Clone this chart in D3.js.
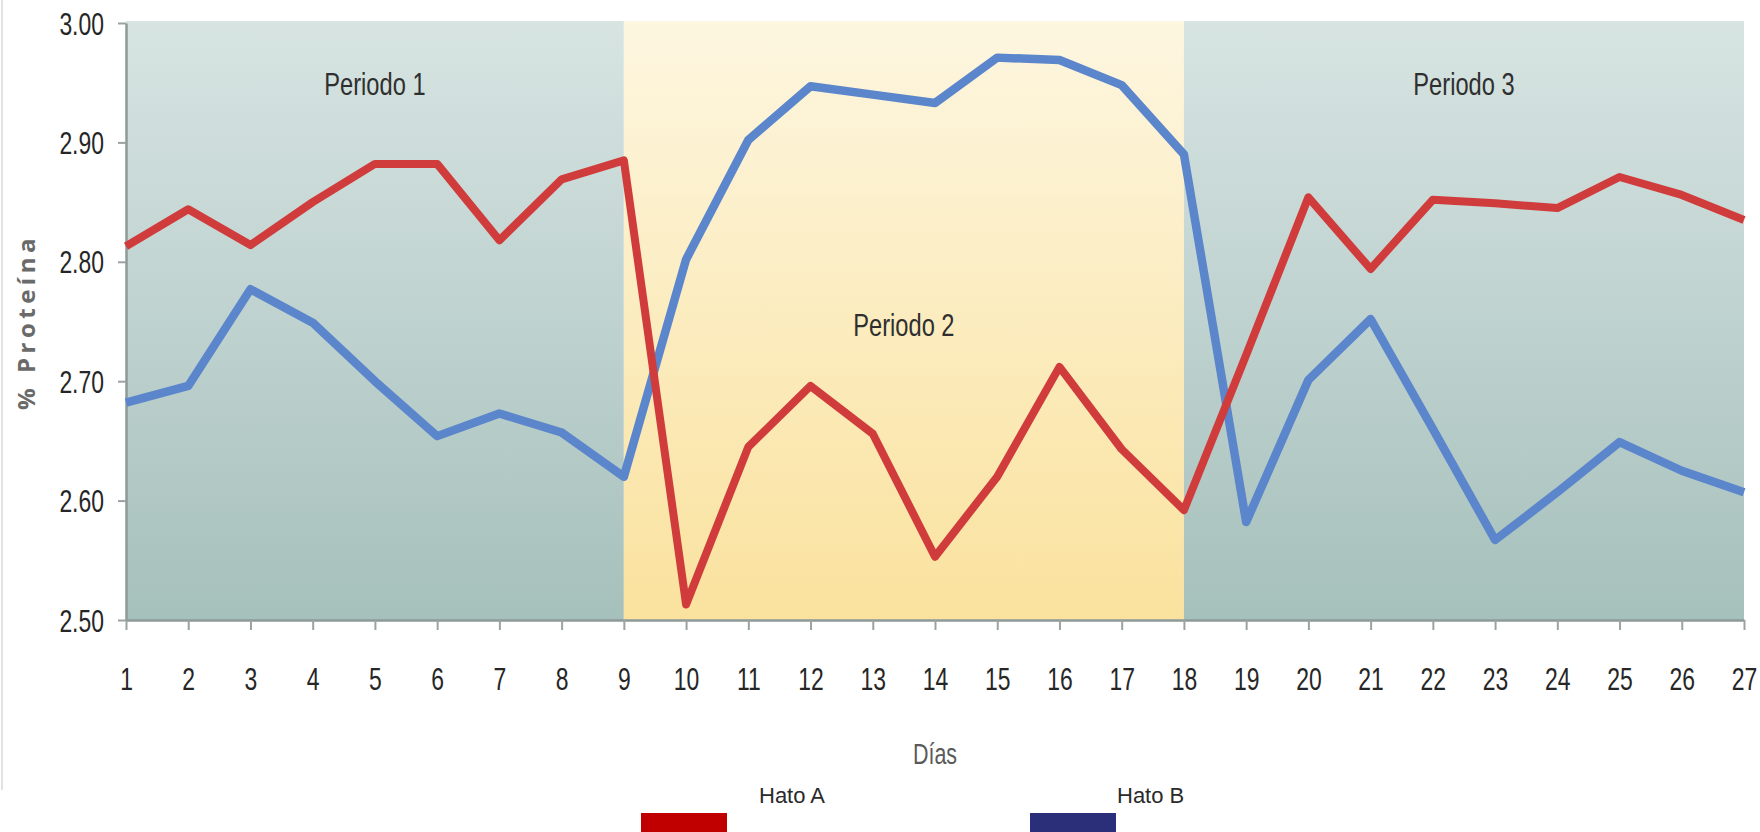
<!DOCTYPE html>
<html>
<head>
<meta charset="utf-8">
<script src="https://cdn.jsdelivr.net/npm/d3@7/dist/d3.min.js"></script>
<style>
  html, body { margin: 0; padding: 0; background: #ffffff; }
  svg { display: block; }
</style>
</head>
<body>
<svg id="chart" width="1760" height="832"></svg>
<script>
// ---- data ----
const days = [1,2,3,4,5,6,7,8,9,10,11,12,13,14,15,16,17,18,19,20,21,22,23,24,25,26,27];
const hatoA = [2.813,2.844,2.814,2.850,2.882,2.882,2.818,2.869,2.885,2.513,2.645,2.696,2.656,2.553,2.620,2.712,2.643,2.592,2.722,2.854,2.794,2.852,2.849,2.845,2.871,2.856,2.835];
const hatoB = [2.682,2.696,2.777,2.749,2.700,2.654,2.673,2.657,2.620,2.802,2.902,2.947,2.940,2.933,2.971,2.969,2.948,2.890,2.582,2.701,2.752,2.660,2.567,2.607,2.649,2.625,2.607];
const yTicks = [2.50, 2.60, 2.70, 2.80, 2.90, 3.00];
const periodNames = ["Periodo 1", "Periodo 2", "Periodo 3"];
const periodStart = [1, 9, 18];
const periodEnd = [9, 18, 27];
const seriesNames = ["Hato A", "Hato B"];
const yTitle = "% Proteína";
const xTitle = "Días";

// ---- layout ----
const svg = d3.select("#chart");
const x = d3.scaleLinear().domain([1, 27]).range([126, 1744]);
const y = d3.scaleLinear().domain([2.5, 3.0]).range([620, 23]);
const SX = 0.74; // condensed look

const defs = svg.append("defs");
function vgrad(id, top, bottom) {
  const g = defs.append("linearGradient").attr("id", id)
    .attr("x1", 0).attr("y1", 0).attr("x2", 0).attr("y2", 1);
  g.append("stop").attr("offset", "0%").attr("stop-color", top);
  g.append("stop").attr("offset", "100%").attr("stop-color", bottom);
}
vgrad("gTeal", "#d7e4e2", "#a6c0bc");
vgrad("gYellow", "#fdf6e0", "#fae29e");

// left faint frame line
svg.append("line").attr("x1", 2).attr("x2", 2).attr("y1", 0).attr("y2", 790)
  .attr("stroke", "#e2e2e2").attr("stroke-width", 2);

// period bands
const periods = periodNames.map((n, i) => ({ name: n, s: periodStart[i], e: periodEnd[i], i }));
svg.append("g").selectAll("rect").data(periods).join("rect")
  .attr("x", d => x(d.s))
  .attr("width", d => x(d.e) - x(d.s))
  .attr("y", y(3.0) - 2)
  .attr("height", y(2.5) - y(3.0) + 2)
  .attr("fill", d => d.i === 1 ? "url(#gYellow)" : "url(#gTeal)");

// period labels
const labelY = [95, 336, 95];
svg.append("g").selectAll("text").data(periods).join("text")
  .attr("transform", d => `translate(${(x(d.s) + x(d.e)) / 2},${labelY[d.i]}) scale(${SX},1)`)
  .attr("text-anchor", "middle")
  .attr("font-family", "Liberation Sans, Arial, sans-serif")
  .attr("font-size", 32)
  .attr("fill", "#2f2f2f")
  .text(d => d.name);

// axes
const xAxis = d3.axisBottom(x).tickValues(days).tickSize(10).tickSizeOuter(0).tickFormat(d3.format("d"));
const yAxis = d3.axisLeft(y).tickValues(yTicks).tickSize(8).tickSizeOuter(0).tickFormat(d3.format(".2f"));

const gx = svg.append("g").attr("transform", `translate(0,${y(2.5)})`).call(xAxis);
const gy = svg.append("g").attr("transform", `translate(${x(1)},0)`).call(yAxis);

[gx, gy].forEach(g => {
  g.select(".domain").attr("stroke", "#8d9a98").attr("stroke-width", 2.5);
  g.selectAll(".tick line").attr("stroke", "#9aa3a2").attr("stroke-width", 2);
  g.selectAll(".tick text")
    .attr("font-family", "Liberation Sans, Arial, sans-serif")
    .attr("font-size", 31)
    .attr("fill", "#262626");
});
gx.selectAll(".tick text").attr("y", 0).attr("dy", 0)
  .attr("transform", `translate(0,70) scale(${SX},1)`);
gy.selectAll(".tick text").attr("x", 0).attr("dy", 0)
  .attr("transform", `translate(-22,11) scale(${SX},1)`);

// lines
const line = d3.line().x((d, i) => x(days[i])).y(d => y(d));
svg.append("path").datum(hatoB).attr("d", line)
  .attr("fill", "none").attr("stroke", "#5b86cc").attr("stroke-width", 8.5)
  .attr("stroke-linejoin", "round");
svg.append("path").datum(hatoA).attr("d", line)
  .attr("fill", "none").attr("stroke", "#d03c3c").attr("stroke-width", 8)
  .attr("stroke-linejoin", "round");

// axis titles
svg.append("text")
  .attr("transform", "translate(35,322) rotate(-90)")
  .attr("text-anchor", "middle")
  .attr("font-family", "Open Sans, DejaVu Sans, sans-serif")
  .attr("font-weight", 700)
  .attr("font-size", 24)
  .attr("letter-spacing", 4.5)
  .attr("fill", "#6a6a6a")
  .text(yTitle);

svg.append("text")
  .attr("transform", `translate(${(x(1) + x(27)) / 2},764) scale(${SX},1)`)
  .attr("text-anchor", "middle")
  .attr("font-family", "Liberation Sans, Arial, sans-serif")
  .attr("font-size", 29)
  .attr("fill", "#5a5a5a")
  .text(xTitle);

// legend
const legendColors = ["#c00000", "#2b2f7a"];
const legendSwX = [641, 1030];
const legendTxX = [759, 1117];
const lg = svg.append("g").selectAll("g").data(seriesNames).join("g");
lg.append("rect")
  .attr("x", (d, i) => legendSwX[i]).attr("y", 813)
  .attr("width", 86).attr("height", 19)
  .attr("fill", (d, i) => legendColors[i]);
lg.append("text")
  .attr("x", (d, i) => legendTxX[i]).attr("y", 803)
  .attr("font-family", "Liberation Sans, Arial, sans-serif")
  .attr("font-size", 22)
  .attr("fill", "#2a2a2a")
  .text(d => d);
</script>
</body>
</html>
